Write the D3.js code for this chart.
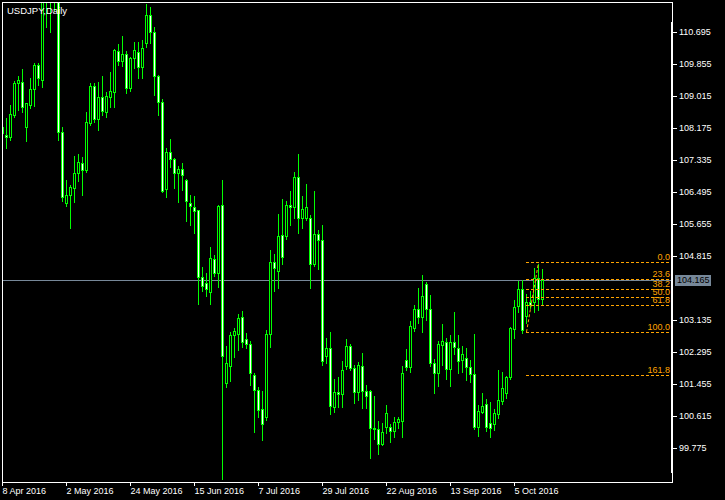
<!DOCTYPE html>
<html><head><meta charset="utf-8">
<script src="https://cdn.jsdelivr.net/npm/d3@7"></script>
<style>html,body{margin:0;padding:0;background:#000;}svg{display:block}</style>
</head><body>
<script>
// ---- data ----
const title = "USDJPY,Daily";
const open = [
108.20,107.98,107.92,108.51,109.35,109.38,108.20,108.77,109.18,109.82,
109.43,111.75,111.55,111.52,111.62,108.07,106.21,106.41,106.58,106.98,
107.25,107.07,108.31,109.27,108.40,108.97,108.59,108.99,109.10,110.19,
109.93,110.10,109.21,110.00,110.15,109.78,110.41,111.13,110.70,109.53,
108.86,106.56,107.53,107.35,106.98,107.08,106.80,106.21,106.10,106.02,
104.25,104.09,103.87,104.72,104.36,106.14,101.48,101.93,102.73,102.75,
103.20,102.62,102.51,101.68,101.29,100.78,100.59,102.77,104.66,104.42,
105.36,105.34,106.14,106.10,106.87,105.80,105.80,105.80,104.61,105.38,
105.24,102.19,102.38,100.85,101.23,101.19,101.92,102.45,101.86,101.25,
101.92,101.27,101.27,100.29,100.26,99.87,100.31,100.31,100.22,100.44,
100.48,102.08,101.90,102.93,103.41,103.20,104.07,103.41,101.99,101.73,
102.47,102.54,101.83,102.54,102.38,102.08,102.12,101.90,101.70,100.31,
100.72,100.92,100.42,100.39,100.66,101.00,101.20,101.62,102.88,103.50,
103.93,103.23,103.61,103.61,104.22,103.67];
const high = [
108.45,108.46,108.80,109.43,109.56,109.74,108.85,109.50,109.90,109.90,
111.85,111.95,111.75,111.85,111.90,108.22,106.82,106.70,107.46,107.52,
107.43,108.61,109.38,109.38,109.40,109.56,109.15,109.67,110.26,110.41,
110.61,110.21,110.05,110.45,110.45,110.50,111.44,111.37,110.84,109.58,
108.95,107.66,107.90,107.41,107.20,107.27,106.85,106.44,106.41,106.04,
104.55,104.40,105.07,104.86,106.17,106.82,102.47,102.84,102.95,103.32,
103.39,102.81,102.60,101.77,101.40,101.29,102.88,104.99,104.88,105.93,
106.32,106.28,106.54,107.04,107.52,106.41,106.72,105.90,106.54,105.52,
105.65,102.69,102.84,101.60,101.66,102.08,102.65,102.53,101.97,102.05,
102.29,101.45,101.31,101.16,100.50,100.44,100.92,100.42,100.61,100.61,
101.95,102.40,103.13,103.55,103.99,104.34,104.15,103.81,102.14,102.60,
103.04,102.67,102.76,103.36,102.76,102.47,102.41,102.10,102.79,100.92,
101.25,101.07,100.99,100.81,101.84,101.79,101.68,102.97,103.67,104.18,
104.20,103.84,103.92,104.51,104.63,104.48];
const low = [
107.65,107.63,107.85,108.45,108.64,108.59,107.83,108.70,108.74,109.30,
109.25,110.83,110.68,111.26,107.85,106.26,106.12,105.55,106.23,106.78,
106.41,107.02,108.25,108.33,108.11,108.51,108.46,108.73,108.73,109.82,
109.80,109.09,109.15,109.73,109.47,109.47,110.30,110.41,109.03,108.51,
106.49,106.36,107.15,106.58,106.23,106.54,105.73,105.62,105.42,103.54,
103.90,103.76,103.56,104.28,104.00,98.95,101.38,101.53,102.16,102.34,
102.42,102.39,101.42,100.19,100.59,99.99,100.50,102.43,103.89,103.97,
104.60,105.25,105.62,105.80,105.42,105.55,105.75,103.97,104.55,104.47,
101.94,101.99,100.66,100.70,100.85,100.85,101.83,101.81,100.96,101.03,
100.83,100.83,99.51,100.00,99.61,99.85,100.17,99.93,100.06,100.28,
100.05,101.81,101.75,102.85,103.04,102.80,103.13,101.92,101.20,101.40,
101.95,101.57,101.39,102.23,101.73,101.75,101.55,101.51,100.26,100.09,
100.68,100.21,100.06,100.24,100.55,100.91,101.09,101.57,102.66,103.34,
102.79,103.06,103.44,103.34,103.39,103.54];
const close = [
108.03,107.94,108.53,109.34,109.43,108.73,108.82,109.18,109.82,109.47,
111.75,111.55,111.52,111.62,108.07,106.35,106.40,106.61,106.98,107.27,
107.07,108.32,109.27,108.40,108.99,108.61,109.02,109.14,110.21,109.93,
110.10,109.23,110.00,110.21,109.78,110.26,111.13,110.70,109.54,108.86,
106.52,107.55,107.35,106.98,107.08,106.93,106.25,106.12,106.00,104.25,
104.03,103.94,104.75,104.37,106.12,102.19,101.99,102.73,102.84,103.17,
102.54,102.51,101.73,101.29,100.77,100.39,102.77,104.66,104.48,105.33,
104.79,106.14,106.10,106.87,105.80,106.03,106.10,104.61,105.38,105.24,
102.05,102.38,100.87,101.23,101.19,101.81,102.44,101.86,101.25,101.95,
101.27,101.12,100.29,100.26,99.87,100.20,100.68,100.22,100.44,100.53,
101.73,101.90,102.97,103.41,103.21,103.76,103.41,102.00,101.73,102.49,
102.57,101.83,102.54,102.41,102.06,102.23,101.90,101.70,100.31,100.75,
100.87,100.31,100.29,100.68,101.03,101.33,101.62,102.91,103.48,103.93,
102.87,103.61,103.52,104.22,103.67,104.165];
const priceTicks = [110.695,109.855,109.015,108.175,107.335,106.495,105.655,104.815,103.135,102.295,101.455,100.615,99.775];
const dateTickIndex = [0,16,32,48,64,80,96,112,128];
const dateTickLabels = ["8 Apr 2016","2 May 2016","24 May 2016","15 Jun 2016","7 Jul 2016","29 Jul 2016","22 Aug 2016","13 Sep 2016","5 Oct 2016"];
const currentPrice = 104.165;
const fibLevels = [0, 23.6, 38.2, 50, 61.8, 100, 161.8];
const fibLabels = ["0.0","23.6","38.2","50.0","61.8","100.0","161.8"];
const fibHighPrice = 104.64, fibLowPrice = 102.81;
const fibStartIndex = 131, fibEndIndex = 134;

// ---- layout ----
const W = 725, H = 500;
const L = 2, T = 2, R = 672, B = 482;
const font = "'Liberation Sans', Arial, sans-serif";
const svg = d3.select("body").append("svg").attr("width", W).attr("height", H)
  .style("background", "#000");
svg.append("defs").append("clipPath").attr("id", "clip")
  .append("rect").attr("x", L).attr("y", T).attr("width", R - L).attr("height", B - T);

const n = open.length;
const x = d3.scaleLinear().domain([0, n - 1]).range([2.5, 2.5 + 4 * (n - 1)]);
const y = d3.scaleLinear().domain([99.775, 110.695]).range([447.7, 31.7]);
const py = v => Math.round(y(v)) + 0.5;

const plot = svg.append("g").attr("clip-path", "url(#clip)");

// current price line
plot.append("line").attr("x1", L).attr("x2", R).attr("y1", py(currentPrice)).attr("y2", py(currentPrice))
  .attr("stroke", "#778899").attr("stroke-width", 1);

const idx = d3.range(n);
const green = "#00ff00";
// wicks
plot.append("g").selectAll("line").data(idx).join("line")
  .attr("x1", i => x(i)).attr("x2", i => x(i))
  .attr("y1", i => py(high[i])).attr("y2", i => py(low[i]))
  .attr("stroke", green).attr("stroke-width", 1).attr("shape-rendering", "crispEdges");
// bodies
plot.append("g").selectAll("path").data(idx).join("path")
  .attr("d", i => {
    const t = py(Math.max(open[i], close[i])), b = py(Math.min(open[i], close[i]));
    const x0 = x(i) - 1, x1 = x(i) + 1;
    return `M${x0},${t}H${x1}V${b}H${x0}Z`;
  })
  .attr("fill", i => close[i] < open[i] ? "#fff" : "#000")
  .attr("stroke", green).attr("stroke-width", 1).attr("shape-rendering", "crispEdges");

// fibonacci
const fibColor = "#ffa500";
const fibY = lv => fibHighPrice - (fibHighPrice - fibLowPrice) * lv / 100;
const fg = plot.append("g");
fg.append("line")
  .attr("x1", x(fibStartIndex)).attr("y1", y(fibLowPrice))
  .attr("x2", x(fibEndIndex)).attr("y2", y(fibHighPrice))
  .attr("stroke", fibColor).attr("stroke-dasharray", "3,2");
fg.selectAll("line.lv").data(fibLevels).join("line").attr("class", "lv")
  .attr("x1", x(fibStartIndex) - 0.5).attr("x2", R)
  .attr("y1", d => py(fibY(d))).attr("y2", d => py(fibY(d)))
  .attr("stroke", fibColor).attr("stroke-dasharray", "3,2").attr("shape-rendering", "crispEdges");
svg.append("g").selectAll("text").data(fibLevels).join("text")
  .attr("x", R - 2).attr("y", d => py(fibY(d)) - 3)
  .attr("text-anchor", "end").attr("fill", fibColor)
  .style("font", `9px ${font}`).text((d, i) => fibLabels[i]);

// frame
svg.append("path").attr("d", `M${L + 0.5},${B + 0.5}V${T + 0.5}H${R + 0.5}V${B + 0.5}H${L + 0.5}`)
  .attr("fill", "none").attr("stroke", "#fff").attr("shape-rendering", "crispEdges");
svg.append("rect").attr("x", R - 1).attr("y", 22).attr("width", 2).attr("height", 451).attr("fill", "#fff");

// price axis
const ya = d3.axisRight(y).tickValues(priceTicks).tickSize(4).tickPadding(2).tickFormat(d3.format(".3f"));
const yg = svg.append("g").attr("transform", `translate(${R + 1},0)`).call(ya);
yg.select(".domain").remove();
yg.selectAll(".tick").attr("transform", d => `translate(0,${py(d)})`);
yg.selectAll(".tick line").attr("stroke", "#fff").attr("shape-rendering", "crispEdges");
yg.selectAll(".tick text").attr("fill", "#fff").style("font", `9px ${font}`).attr("dy", "0.33em");

// current price label
const cpy = py(currentPrice);
svg.append("rect").attr("x", 675).attr("y", cpy - 5.5).attr("width", 36).attr("height", 11).attr("fill", "#778899");
svg.append("text").attr("x", 677).attr("y", cpy).attr("dy", "0.33em").attr("fill", "#000")
  .style("font", `9px ${font}`).text(d3.format(".3f")(currentPrice));

// date axis
const xa = d3.axisBottom(x).tickValues(dateTickIndex).tickSize(4).tickPadding(2)
  .tickFormat((d, i) => dateTickLabels[i]);
const xg = svg.append("g").attr("transform", `translate(0,${B})`).call(xa);
xg.select(".domain").remove();
xg.selectAll(".tick").attr("transform", d => `translate(${Math.floor(x(d)) + 0.5},0)`);
xg.selectAll(".tick line").attr("stroke", "#fff").attr("shape-rendering", "crispEdges");
xg.selectAll(".tick text").attr("fill", "#fff").attr("text-anchor", "start").attr("x", 0)
  .style("font", `9px ${font}`);

// title
svg.append("text").attr("x", 7).attr("y", 13.5).attr("fill", "#fff").style("font", `9.5px ${font}`).text(title);
</script>
</body></html>
